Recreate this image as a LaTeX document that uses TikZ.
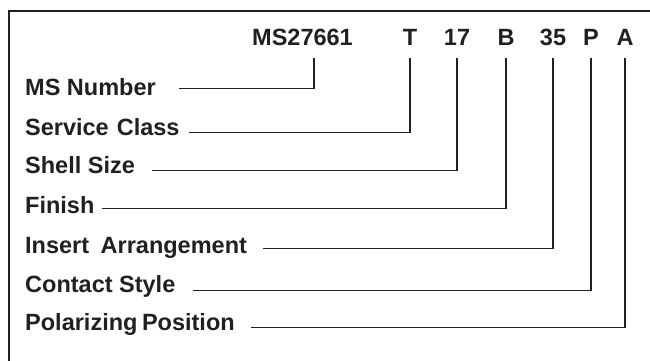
\documentclass[tikz,border=0pt]{standalone}
\usepackage{fontspec}
\setmainfont{Liberation Sans}
\definecolor{ink}{HTML}{231F20}
\begin{document}
\begin{tikzpicture}[x=1pt,y=-1pt,
  every node/.style={inner sep=0pt,text=ink,font=\bfseries\fontsize{23.5}{28}\selectfont},
  code/.style={anchor=base,text depth=0pt,inner ysep=13pt},
  lab/.style={anchor=base west},
  conn/.style={draw=ink,line width=1.5pt}]
\useasboundingbox (0,0) rectangle (650,360);
\draw[conn] (9,361) -- (9,11) -- (651,11);
% code row
\node[code] (cMS) at (302.5,45) {MS27661};
\node[code] (cT) at (410,45) {T};
\node[code] (c17) at (457,45) {17};
\node[code] (cB) at (506,45) {B};
\node[code] (c35) at (553,45) {35};
\node[code] (cP) at (591,45) {P};
\node[code] (cA) at (625,45) {A};
% labels
\node[lab] (lMS) at (25,95) {MS Number};
\node[lab] (lT) at (25,135) {Service\hspace{1.5pt} Class};
\node[lab] (l17) at (25,173) {Shell Size};
\node[lab] (lB) at (25,213) {Finish};
\node[lab] (l35) at (25,253) {Insert\hspace{5pt} Arrangement};
\node[lab] (lP) at (25,292) {Contact Style};
\node[lab] (lA) at (25,330) {Polarizing\hspace{-2pt} Position};
% line starts
\coordinate (sMS) at (179,88.5);
\coordinate (sT) at (189,132.5);
\coordinate (s17) at (152,170.5);
\coordinate (sB) at (102,208.5);
\coordinate (s35) at (263,248.5);
\coordinate (sP) at (193,290.5);
\coordinate (sA) at (251,327.5);
% connectors
\draw[conn] ([xshift=11.5pt]cMS.south) |- (sMS);
\draw[conn] (cT.south) |- (sT);
\draw[conn] (c17.south) |- (s17);
\draw[conn] (cB.south) |- (sB);
\draw[conn] (c35.south) |- (s35);
\draw[conn] (cP.south) |- (sP);
\draw[conn] (cA.south) |- (sA);
\end{tikzpicture}
\end{document}
